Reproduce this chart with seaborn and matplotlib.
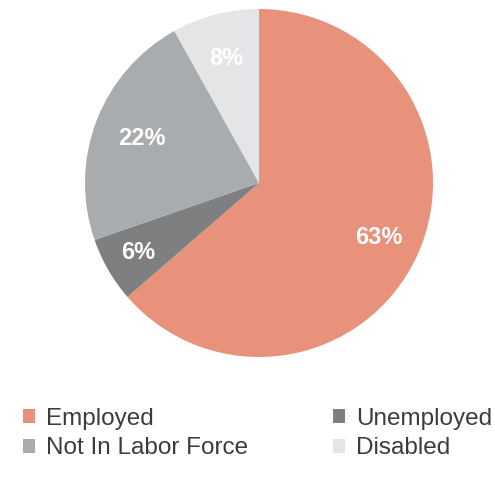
import matplotlib
matplotlib.use("Agg")
import matplotlib.pyplot as plt
import seaborn as sns
import numpy as np
from matplotlib.patches import Patch

categories = ["Employed", "Unemployed", "Not In Labor Force", "Disabled"]
values = [63, 6, 22, 8]
value_labels = ["63%", "6%", "22%", "8%"]
colors = ["#E8917B", "#7E7F81", "#A9ACAF", "#E4E5E7"]

sns.set_theme(style="white")
plt.rcParams["font.family"] = ["Liberation Sans", "DejaVu Sans"]

W, H = 495, 483
fig = plt.figure(figsize=(W / 100, H / 100), dpi=100)
fig.patch.set_facecolor("white")

cx, cy, r = 259, 183, 174
ax = fig.add_axes([(cx - r) / W, (H - cy - r) / H, 2 * r / W, 2 * r / H])
wedges, _ = ax.pie(values, colors=colors, startangle=90, counterclock=False,
                   wedgeprops=dict(linewidth=0))
ax.set_xlim(-1, 1)
ax.set_ylim(-1, 1)
ax.set_aspect("equal")
ax.axis("off")

dists = [0.76, 0.80, 0.72, 0.74]
for w, lab, d in zip(wedges, value_labels, dists):
    ang = np.deg2rad((w.theta1 + w.theta2) / 2)
    ax.text(d * np.cos(ang), d * np.sin(ang), lab, ha="center", va="center",
            color="white", fontsize=17, fontweight="bold")

order = [0, 2, 1, 3]
handles = [Patch(facecolor=colors[i], edgecolor="none") for i in order]
labels = [categories[i] for i in order]
fs = 17.5
leg = fig.legend(handles, labels, loc="upper left",
                 bbox_to_anchor=(23 / W, 1 - 408 / H), ncol=2, frameon=False,
                 fontsize=fs, handlelength=0.5, handleheight=0.5,
                 handletextpad=0.45, columnspacing=3.5, labelspacing=0.3,
                 borderpad=0, borderaxespad=0)
for t in leg.get_texts():
    t.set_color("#3c3c3c")

fig.savefig("out.png", dpi=100, facecolor="white")
